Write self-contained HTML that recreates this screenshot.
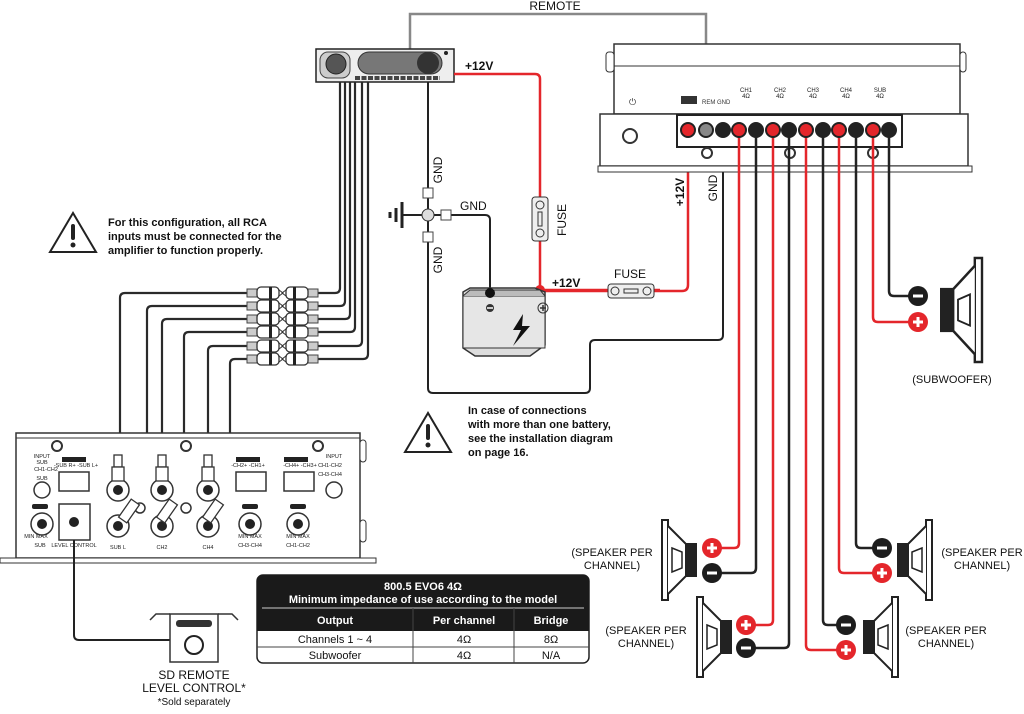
<!DOCTYPE html>
<html><head><meta charset="utf-8"><style>
html,body{margin:0;padding:0;background:#fff}
svg{display:block}
text{font-family:"Liberation Sans",Arial,sans-serif}
</style></head><body>
<svg width="1024" height="714" viewBox="0 0 1024 714" xmlns="http://www.w3.org/2000/svg">
<defs>
<g id="spkL">
 <path d="M0,-40 L0,40 L6,40 L6,-40 Z" fill="#fff" stroke="#222" stroke-width="2"/>
 <path d="M6,-34 Q16,-24 24,-16 L24,16 Q16,24 6,34" fill="#fff" stroke="#222" stroke-width="2"/>
 <path d="M10,-12 L20,-8 L20,8 L10,12 Z" fill="none" stroke="#222" stroke-width="1.5"/>
 <rect x="24" y="-17" width="11" height="34" fill="#222"/>
</g>
<g id="plus"><circle r="10" fill="#e4262b"/><path d="M-5,0 H5 M0,-5 V5" stroke="#fff" stroke-width="3"/></g>
<g id="minus"><circle r="10" fill="#1d1d1d"/><path d="M-5,0 H5" stroke="#fff" stroke-width="3"/></g>
<g id="rca">
 <rect x="0" y="-4" width="10" height="8" fill="#ccc" stroke="#444" stroke-width="1"/>
 <rect x="10" y="-6" width="22" height="12" rx="4" fill="#fff" stroke="#333" stroke-width="1.3"/>
 <rect x="22" y="-6" width="3" height="12" fill="#222"/>
 <path d="M32,-3 L36,0 L32,3" fill="none" stroke="#333"/>
</g>
</defs>

<!-- REMOTE wire -->
<path d="M410,52 V14 H706 V130" fill="none" stroke="#888" stroke-width="2.5"/>
<text x="555" y="10" font-size="12" text-anchor="middle" fill="#111">REMOTE</text>

<!-- head unit -->
<rect x="316" y="49" width="138" height="33" fill="#eee" stroke="#222" stroke-width="1.5"/>
<rect x="320" y="52" width="30" height="26" rx="8" fill="#ccc" stroke="#444"/>
<circle cx="336" cy="64" r="10" fill="#555" stroke="#222"/>
<rect x="358" y="52" width="84" height="22" rx="11" fill="#777" stroke="#333"/>
<circle cx="428" cy="63" r="11" fill="#333"/>
<circle cx="446" cy="53" r="2" fill="#222"/>
<path d="M355,78 H440" stroke="#444" stroke-width="4" stroke-dasharray="5,1.5"/>

<!-- +12V red from head unit -->
<path d="M454,74 H535 Q540,74 540,79 V290 H660" fill="none" stroke="#e4262b" stroke-width="2.5"/>
<text x="465" y="70" font-size="12" font-weight="bold" fill="#111">+12V</text>
<rect x="532" y="197" width="16" height="44" rx="3" fill="#eee" stroke="#333"/>
<circle cx="540" cy="205" r="4" fill="none" stroke="#333"/><circle cx="540" cy="233" r="4" fill="none" stroke="#333"/>
<rect x="538" y="212" width="4" height="14" fill="none" stroke="#333"/>
<text x="566" y="220" font-size="12" fill="#111" transform="rotate(-90 566 220)" text-anchor="middle">FUSE</text>
<circle cx="540" cy="290" r="5" fill="#e4262b"/>
<text x="552" y="287" font-size="12" font-weight="bold" fill="#111">+12V</text>

<!-- red from amp +12 to fuse -->
<path d="M688,130 V285 Q688,291 682,291 H540" fill="none" stroke="#e4262b" stroke-width="2.5"/>
<rect x="608" y="284" width="46" height="14" rx="3" fill="#eee" stroke="#333"/>
<circle cx="615" cy="291" r="4" fill="none" stroke="#333"/><circle cx="647" cy="291" r="4" fill="none" stroke="#333"/>
<rect x="624" y="289" width="14" height="4" fill="none" stroke="#333"/>
<text x="630" y="278" font-size="12" fill="#111" text-anchor="middle">FUSE</text>
<text x="684" y="192" font-size="12" font-weight="bold" fill="#111" transform="rotate(-90 684 192)" text-anchor="middle">+12V</text>

<!-- GND head unit vertical -->
<path d="M428,82 V388 Q428,393 433,393 H585 Q590,393 590,388 V345 Q590,340 595,340 H718 Q723,340 723,335 V130" fill="none" stroke="#222" stroke-width="2"/>
<text x="442" y="170" font-size="12" fill="#111" transform="rotate(-90 442 170)" text-anchor="middle">GND</text>
<text x="442" y="260" font-size="12" fill="#111" transform="rotate(-90 442 260)" text-anchor="middle">GND</text>
<text x="717" y="188" font-size="12" fill="#111" transform="rotate(-90 717 188)" text-anchor="middle">GND</text>
<!-- ground junction -->
<path d="M402,215 H428 M433,215 H485 Q490,215 490,220 V292" fill="none" stroke="#222" stroke-width="2"/>
<text x="460" y="210" font-size="12" fill="#111">GND</text>
<rect x="423" y="188" width="10" height="10" fill="#fff" stroke="#444"/>
<rect x="423" y="232" width="10" height="10" fill="#fff" stroke="#444"/>
<rect x="441" y="210" width="10" height="10" fill="#fff" stroke="#444"/>
<circle cx="428" cy="215" r="6" fill="#ddd" stroke="#333"/>
<path d="M402,202 V228 M396,208 V222 M390,212 V218" stroke="#222" stroke-width="3"/>

<!-- battery -->
<path d="M463,292 L470,288 H535 L545,292 V345 L530,356 H475 L463,348 Z" fill="#ddd" stroke="#333" stroke-width="1.5"/>
<rect x="463" y="296" width="82" height="52" fill="#e6e6e6" stroke="#333"/>
<path d="M463,296 L470,290 H540 L545,296" fill="#bbb" stroke="#333"/>
<circle cx="490" cy="293" r="5" fill="#111"/>
<circle cx="490" cy="308" r="4" fill="#333"/><path d="M487,308 H493" stroke="#fff" stroke-width="1.5"/>
<circle cx="543" cy="308" r="5" fill="none" stroke="#333"/><path d="M540,308 H546 M543,305 V311" stroke="#333" stroke-width="1.5"/>
<path d="M523,314 L513,330 H521 L513,346 L530,326 H522 Z" fill="#111"/>

<!-- main amp -->
<rect x="614" y="44" width="346" height="70" fill="#fff" stroke="#333" stroke-width="1.5"/>
<path d="M614,66 H960" stroke="#333"/>
<rect x="606" y="52" width="8" height="20" rx="3" fill="#fff" stroke="#333"/>
<rect x="960" y="52" width="6" height="20" rx="3" fill="#fff" stroke="#333"/>
<text x="629" y="105" font-size="9" fill="#333">⏻</text>
<rect x="681" y="96" width="16" height="8" fill="#333"/>
<text x="702" y="104" font-size="6" fill="#333">REM GND</text>
<g font-size="6" fill="#222" text-anchor="middle">
<text x="746" y="92">CH1</text><text x="746" y="98">4Ω</text>
<text x="780" y="92">CH2</text><text x="780" y="98">4Ω</text>
<text x="813" y="92">CH3</text><text x="813" y="98">4Ω</text>
<text x="846" y="92">CH4</text><text x="846" y="98">4Ω</text>
<text x="880" y="92">SUB</text><text x="880" y="98">4Ω</text>
</g>
<rect x="600" y="114" width="368" height="52" fill="#fff" stroke="#333" stroke-width="1.5"/>
<path d="M598,166 H972 V172 H598 Z" fill="#fff" stroke="#333"/>
<circle cx="630" cy="136" r="7" fill="#fff" stroke="#333" stroke-width="2"/>
<rect x="677" y="115" width="225" height="32" fill="#fff" stroke="#222" stroke-width="2"/>
<circle cx="707" cy="153" r="5" fill="none" stroke="#333" stroke-width="2"/>
<circle cx="790" cy="153" r="5" fill="none" stroke="#333" stroke-width="2"/>
<circle cx="873" cy="153" r="5" fill="none" stroke="#333" stroke-width="2"/>

<!-- speaker wires -->
<g fill="none" stroke-width="2.5">
<path d="M739,130 V543 Q739,548 734,548 H712" stroke="#e4262b"/>
<path d="M756,130 V568 Q756,573 751,573 H712" stroke="#222"/>
<path d="M773,130 V620 Q773,625 768,625 H746" stroke="#e4262b"/>
<path d="M789,130 V643 Q789,648 784,648 H746" stroke="#222"/>
<path d="M806,130 V645 Q806,650 811,650 H846" stroke="#e4262b"/>
<path d="M823,130 V620 Q823,625 828,625 H846" stroke="#222"/>
<path d="M839,130 V568 Q839,573 844,573 H882" stroke="#e4262b"/>
<path d="M856,130 V543 Q856,548 861,548 H882" stroke="#222"/>
<path d="M873,130 V317 Q873,322 878,322 H918" stroke="#e4262b"/>
<path d="M889,130 V291 Q889,296 894,296 H918" stroke="#222"/>
</g>
<!-- terminals -->
<g stroke="#222" stroke-width="2">
<circle cx="688" cy="130" r="7" fill="#e4262b"/><circle cx="706" cy="130" r="7" fill="#888"/>
<circle cx="723" cy="130" r="7" fill="#222"/>
<circle cx="739" cy="130" r="7" fill="#e4262b"/><circle cx="756" cy="130" r="7" fill="#222"/>
<circle cx="773" cy="130" r="7" fill="#e4262b"/><circle cx="789" cy="130" r="7" fill="#222"/>
<circle cx="806" cy="130" r="7" fill="#e4262b"/><circle cx="823" cy="130" r="7" fill="#222"/>
<circle cx="839" cy="130" r="7" fill="#e4262b"/><circle cx="856" cy="130" r="7" fill="#222"/>
<circle cx="873" cy="130" r="7" fill="#e4262b"/><circle cx="889" cy="130" r="7" fill="#222"/>
</g>

<!-- speakers -->
<use href="#spkL" transform="translate(662,560)"/>
<use href="#spkL" transform="translate(697,637)"/>
<use href="#spkL" transform="translate(932,560) scale(-1,1)"/>
<use href="#spkL" transform="translate(898,637) scale(-1,1)"/>
<use href="#spkL" transform="translate(982,310) scale(-1.2,1.3)"/>
<use href="#plus" x="712" y="548"/><use href="#minus" x="712" y="573"/>
<use href="#plus" x="746" y="625"/><use href="#minus" x="746" y="648"/>
<use href="#minus" x="882" y="548"/><use href="#plus" x="882" y="573"/>
<use href="#minus" x="846" y="625"/><use href="#plus" x="846" y="650"/>
<use href="#minus" x="918" y="296"/><use href="#plus" x="918" y="322"/>
<g font-size="11" fill="#111" text-anchor="middle">
<text x="612" y="556">(SPEAKER PER</text><text x="612" y="569">CHANNEL)</text>
<text x="646" y="634">(SPEAKER PER</text><text x="646" y="647">CHANNEL)</text>
<text x="982" y="556">(SPEAKER PER</text><text x="982" y="569">CHANNEL)</text>
<text x="946" y="634">(SPEAKER PER</text><text x="946" y="647">CHANNEL)</text>
<text x="952" y="383">(SUBWOOFER)</text>
</g>

<!-- warnings -->
<path d="M73,213 L50,252 H96 Z" fill="#fff" stroke="#222" stroke-width="2"/>
<rect x="71" y="224" width="4" height="16" rx="2" fill="#222"/><circle cx="73" cy="245" r="2.5" fill="#222"/>
<g font-size="11" font-weight="bold" fill="#111">
<text x="108" y="226">For this configuration, all RCA</text>
<text x="108" y="240">inputs must be connected for the</text>
<text x="108" y="254">amplifier to function properly.</text>
<text x="468" y="414">In case of connections</text>
<text x="468" y="428">with more than one battery,</text>
<text x="468" y="442">see the installation diagram</text>
<text x="468" y="456">on page 16.</text>
</g>
<path d="M428,413 L405,452 H451 Z" fill="#fff" stroke="#222" stroke-width="2"/>
<rect x="426" y="424" width="4" height="16" rx="2" fill="#222"/><circle cx="428" cy="445" r="2.5" fill="#222"/>

<!-- RCA cables head unit -->
<g fill="none" stroke="#2a2a2a" stroke-width="2.2">
<path d="M340,82 V288 Q340,293 335,293 H318"/>
<path d="M345,82 V301 Q345,306 340,306 H318"/>
<path d="M350,82 V314 Q350,319 345,319 H318"/>
<path d="M355,82 V327 Q355,332 350,332 H318"/>
<path d="M362,82 V341 Q362,346 357,346 H318"/>
<path d="M368,82 V354 Q368,359 363,359 H318"/>
<path d="M247,293 H125 Q120,293 120,298 V455"/>
<path d="M247,306 H152 Q147,306 147,311 V440 Q147,470 130,500"/>
<path d="M247,319 H167 Q162,319 162,324 V455"/>
<path d="M247,332 H189 Q184,332 184,337 V440 Q184,470 168,500"/>
<path d="M247,346 H213 Q208,346 208,351 V455"/>
<path d="M247,359 H235 Q230,359 230,364 V440 Q230,470 214,500"/>
</g>
<g>
<use href="#rca" transform="translate(247,293)"/><use href="#rca" transform="translate(318,293) scale(-1,1)"/>
<use href="#rca" transform="translate(247,306)"/><use href="#rca" transform="translate(318,306) scale(-1,1)"/>
<use href="#rca" transform="translate(247,319)"/><use href="#rca" transform="translate(318,319) scale(-1,1)"/>
<use href="#rca" transform="translate(247,332)"/><use href="#rca" transform="translate(318,332) scale(-1,1)"/>
<use href="#rca" transform="translate(247,346)"/><use href="#rca" transform="translate(318,346) scale(-1,1)"/>
<use href="#rca" transform="translate(247,359)"/><use href="#rca" transform="translate(318,359) scale(-1,1)"/>
</g>

<!-- small amp -->
<rect x="16" y="433" width="344" height="125" fill="#fff" stroke="#333" stroke-width="1.5"/>
<path d="M16,438 H360" stroke="#333"/>
<path d="M0,558 H376 V563 H0 Z" fill="#fff" stroke="#333"/>
<rect x="360" y="440" width="6" height="22" rx="3" fill="#fff" stroke="#333"/>
<rect x="360" y="520" width="6" height="22" rx="3" fill="#fff" stroke="#333"/>
<circle cx="57" cy="446" r="5" fill="none" stroke="#333" stroke-width="2"/>
<circle cx="186" cy="446" r="5" fill="none" stroke="#333" stroke-width="2"/>
<circle cx="318" cy="446" r="5" fill="none" stroke="#333" stroke-width="2"/>
<g font-size="5.5" fill="#222" text-anchor="middle">
<text x="42" y="458">INPUT</text><text x="42" y="464">SUB</text><text x="46" y="471">CH1-CH2</text><text x="42" y="480">SUB</text>
<text x="334" y="458">INPUT</text><text x="330" y="467">CH1-CH2</text><text x="330" y="476">CH3-CH4</text>
<text x="76" y="467">-SUB R+ -SUB L+</text><text x="248" y="467">-CH2+ -CH1+</text><text x="300" y="467">-CH4+ -CH3+</text>
<text x="36" y="538">MIN MAX</text><text x="40" y="547">SUB</text>
<text x="74" y="547">LEVEL CONTROL</text>
<text x="118" y="549">SUB L</text><text x="162" y="549">CH2</text><text x="208" y="549">CH4</text>
<text x="250" y="538">MIN MAX</text><text x="250" y="547">CH3-CH4</text>
<text x="298" y="538">MIN MAX</text><text x="298" y="547">CH1-CH2</text>
</g>
<g fill="#222"><rect x="62" y="457" width="24" height="5"/><rect x="236" y="457" width="24" height="5"/><rect x="284" y="457" width="24" height="5"/>
<rect x="32" y="504" width="16" height="5" rx="2"/><rect x="242" y="504" width="16" height="5" rx="2"/><rect x="290" y="504" width="16" height="5" rx="2"/></g>
<g fill="#fff" stroke="#333" stroke-width="1.5">
<rect x="59" y="472" width="30" height="19"/><rect x="236" y="472" width="30" height="19"/><rect x="284" y="472" width="30" height="19"/>
<circle cx="42" cy="490" r="8"/><circle cx="334" cy="490" r="8"/>
<circle cx="42" cy="524" r="11"/><circle cx="250" cy="524" r="11"/><circle cx="298" cy="524" r="11"/>
<rect x="59" y="504" width="31" height="36"/>
<circle cx="118" cy="490" r="11"/><circle cx="162" cy="490" r="11"/><circle cx="208" cy="490" r="11"/>
<circle cx="118" cy="526" r="11"/><circle cx="162" cy="526" r="11"/><circle cx="208" cy="526" r="11"/>
<circle cx="140" cy="508" r="5"/><circle cx="186" cy="508" r="5"/>
</g>
<g fill="#222"><circle cx="42" cy="524" r="5"/><circle cx="250" cy="524" r="5"/><circle cx="298" cy="524" r="5"/><circle cx="74" cy="522" r="5"/>
<circle cx="118" cy="490" r="5"/><circle cx="162" cy="490" r="5"/><circle cx="208" cy="490" r="5"/>
<circle cx="118" cy="526" r="5"/><circle cx="162" cy="526" r="5"/><circle cx="208" cy="526" r="5"/></g>
<!-- plugs -->
<g fill="#fff" stroke="#333" stroke-width="1.3">
<rect x="114" y="455" width="8" height="12"/><rect x="112" y="467" width="12" height="14"/>
<rect x="158" y="455" width="8" height="12"/><rect x="156" y="467" width="12" height="14"/>
<rect x="204" y="455" width="8" height="12"/><rect x="202" y="467" width="12" height="14"/>
<rect x="124" y="500" width="10" height="22" transform="rotate(35 129 511)"/>
<rect x="162" y="500" width="10" height="22" transform="rotate(35 167 511)"/>
<rect x="208" y="500" width="10" height="22" transform="rotate(35 213 511)"/>
</g>

<!-- remote level control -->
<path d="M74,540 V635 Q74,640 79,640 H173" fill="none" stroke="#222" stroke-width="2"/>
<path d="M150,620 L156,614 H170 M218,614 H232 L238,620" fill="none" stroke="#333" stroke-width="1.5"/>
<rect x="170" y="614" width="48" height="48" fill="#fff" stroke="#333" stroke-width="1.5"/>
<rect x="176" y="620" width="36" height="7" rx="3" fill="#333"/>
<circle cx="194" cy="645" r="9" fill="none" stroke="#222" stroke-width="2"/>
<text x="194" y="679" font-size="12" fill="#111" text-anchor="middle">SD REMOTE</text>
<text x="194" y="692" font-size="12" fill="#111" text-anchor="middle">LEVEL CONTROL*</text>
<text x="194" y="705" font-size="10" fill="#111" text-anchor="middle">*Sold separately</text>

<!-- table -->
<rect x="257" y="575" width="332" height="88" rx="6" fill="#fff" stroke="#222" stroke-width="1.5"/>
<path d="M257,631 V581 Q257,575 263,575 H583 Q589,575 589,581 V631 Z" fill="#1a1a1a"/>
<path d="M262,608 H584" stroke="#ccc" stroke-width="1"/>
<path d="M413,608 V663 M514,608 V663 M257,647 H589" stroke="#444" stroke-width="1"/>
<g fill="#fff" font-size="11" font-weight="bold" text-anchor="middle">
<text x="423" y="590">800.5 EVO6 4Ω</text>
<text x="423" y="603">Minimum impedance of use according to the model</text>
<text x="335" y="624">Output</text><text x="464" y="624">Per channel</text><text x="551" y="624">Bridge</text>
</g>
<g fill="#111" font-size="11" text-anchor="middle">
<text x="335" y="643">Channels 1 ~ 4</text><text x="464" y="643">4Ω</text><text x="551" y="643">8Ω</text>
<text x="335" y="659">Subwoofer</text><text x="464" y="659">4Ω</text><text x="551" y="659">N/A</text>
</g>
</svg>
</body></html>
